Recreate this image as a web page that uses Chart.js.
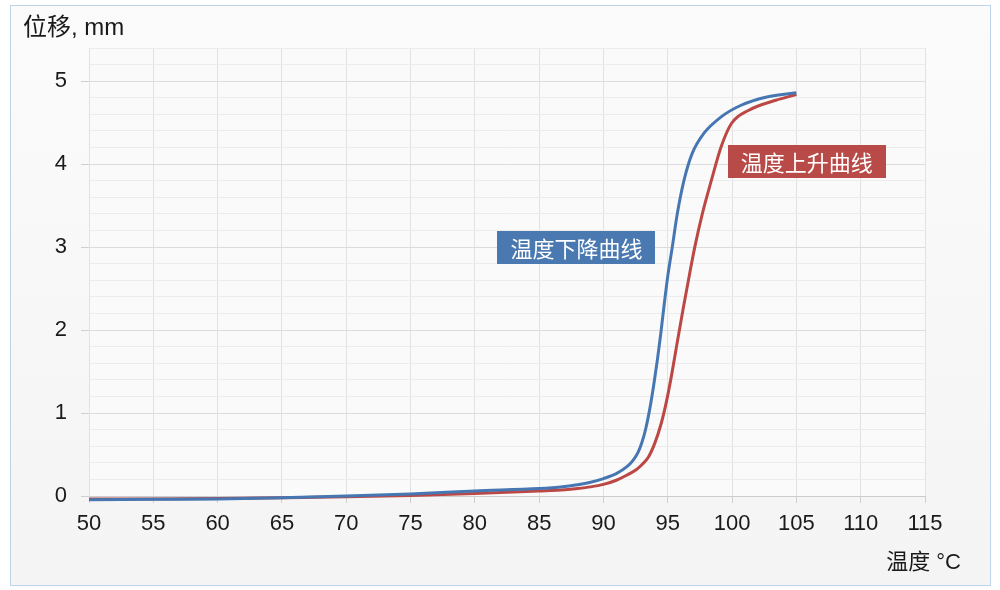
<!DOCTYPE html>
<html>
<head>
<meta charset="utf-8">
<script src="https://cdn.jsdelivr.net/npm/chart.js@4/dist/chart.umd.min.js"></script>
<style>
  html,body{margin:0;padding:0;background:#ffffff;}
  #wrap{width:1000px;height:590px;position:relative;}
</style>
</head>
<body>
<div id="wrap"><canvas id="c"></canvas></div>
<script>
// Temperature (°C) and displacement (mm)
const coolingT = [50, 55, 60, 65, 70, 75, 80, 85, 86, 87, 88, 89, 90, 91, 91.8, 92.3, 92.7, 93, 93.3, 93.6, 93.9, 94.2, 94.45, 94.7, 95, 95.35, 95.75, 96.27, 96.9, 97.8, 99.15, 100.7, 102.7, 105];
const coolingV = [-0.045, -0.04, -0.035, -0.02, 0, 0.025, 0.06, 0.09, 0.1, 0.115, 0.135, 0.165, 0.21, 0.27, 0.35, 0.43, 0.53, 0.65, 0.82, 1.05, 1.33, 1.65, 1.95, 2.28, 2.65, 3.0, 3.41, 3.81, 4.13, 4.37, 4.57, 4.71, 4.81, 4.86];
const heatingT = [50, 55, 60, 65, 70, 75, 80, 85, 87, 88, 89, 90, 91, 91.8, 92.57, 93, 93.5, 94, 94.5, 94.9, 95.3, 95.7, 96.2, 96.7, 97.1, 97.7, 98.4, 99.15, 99.95, 101.3, 103.4, 105];
const heatingV = [-0.035, -0.035, -0.03, -0.02, -0.01, 0.005, 0.03, 0.06, 0.075, 0.09, 0.11, 0.14, 0.19, 0.25, 0.32, 0.38, 0.47, 0.64, 0.88, 1.14, 1.46, 1.82, 2.26, 2.68, 3.0, 3.41, 3.81, 4.21, 4.49, 4.65, 4.77, 4.84];
const seriesNames = ['温度下降曲线', '温度上升曲线'];
const xTitle = '温度 °C';
const yTitle = '位移, mm';

const BLUE = '#4677b3';
const RED = '#bb4845';
const toPts = (xs, ys) => xs.map((x, i) => ({x: x, y: ys[i]}));
const isMajor = v => Math.abs(v - Math.round(v)) < 1e-6;

const framePlugin = {
  id: 'frame',
  beforeDraw(chart) {
    const ctx = chart.ctx;
    ctx.save();
    const g = ctx.createLinearGradient(0, 5, 0, 585);
    g.addColorStop(0, '#fbfbfb');
    g.addColorStop(1, '#f4f4f4');
    ctx.fillStyle = g;
    ctx.fillRect(10.5, 5.5, 980, 580);
    ctx.strokeStyle = '#bcd3e9';
    ctx.lineWidth = 1;
    ctx.strokeRect(10.5, 5.5, 980, 580);
    const a = chart.chartArea;
    ctx.fillStyle = '#fafafa';
    ctx.fillRect(a.left, a.top, a.right - a.left, a.bottom - a.top);
    ctx.restore();
  },
  afterDraw(chart) {
    const ctx = chart.ctx;
    ctx.save();
    ctx.fillStyle = '#1a1a1a';
    ctx.textBaseline = 'middle';
    ctx.textAlign = 'left';
    ctx.font = '24px "Liberation Sans", "Noto Sans CJK SC", sans-serif';
    ctx.fillText(yTitle, 23, 28);
    ctx.textAlign = 'right';
    ctx.font = '22px "Liberation Sans", "Noto Sans CJK SC", sans-serif';
    ctx.fillText(xTitle, 961, 563);
    ctx.restore();
  }
};

const labelPlugin = {
  id: 'seriesLabels',
  afterDatasetsDraw(chart, args, opts) {
    const ctx = chart.ctx;
    const xs = chart.scales.x, ys = chart.scales.y;
    ctx.save();
    opts.items.forEach(it => {
      const cx = xs.getPixelForValue(it.x);
      const cy = ys.getPixelForValue(it.y);
      const w = 158, h = 33;
      ctx.fillStyle = it.color;
      ctx.fillRect(Math.round(cx - w / 2), Math.round(cy - h / 2), w, h);
      ctx.fillStyle = '#ffffff';
      ctx.font = '22px "Noto Sans CJK SC", sans-serif';
      ctx.textAlign = 'center';
      ctx.textBaseline = 'middle';
      ctx.fillText(it.text, cx, cy + 1);
    });
    ctx.restore();
  }
};

new Chart(document.getElementById('c'), {
  type: 'line',
  data: {
    datasets: [
      {label: seriesNames[0], data: toPts(coolingT, coolingV), borderColor: BLUE, borderWidth: 3, pointRadius: 0, cubicInterpolationMode: 'monotone', fill: false, clip: false},
      {label: seriesNames[1], data: toPts(heatingT, heatingV), borderColor: RED, borderWidth: 3, pointRadius: 0, cubicInterpolationMode: 'monotone', fill: false, clip: false}
    ]
  },
  options: {
    responsive: true,
    maintainAspectRatio: false,
    devicePixelRatio: 1,
    animation: false,
    layout: {padding: {left: 0, top: 48, right: 75, bottom: 0}},
    plugins: {
      legend: {display: false},
      tooltip: {enabled: false},
      seriesLabels: {
        items: [
          {text: seriesNames[0], x: 87.9, y: 2.99, color: '#4a78b1'},
          {text: seriesNames[1], x: 105.8, y: 4.03, color: '#b84a47'}
        ]
      }
    },
    scales: {
      x: {
        type: 'linear',
        min: 50, max: 115,
        ticks: {stepSize: 5, autoSkip: false, maxRotation: 0, color: '#1a1a1a', padding: 8, font: {family: '"Liberation Sans", sans-serif', size: 22}},
        grid: {color: '#e2e2e2', tickLength: 7, tickColor: '#cfcfcf', drawTicks: true},
        border: {color: '#cccccc'},
        afterFit(s) { s.height = 94; }
      },
      y: {
        type: 'linear',
        min: 0, max: 5.4,
        ticks: {
          stepSize: 0.2, autoSkip: false, includeBounds: true, color: '#1a1a1a', padding: 14,
          font: {family: '"Liberation Sans", sans-serif', size: 22},
          callback: v => isMajor(v) ? String(Math.round(v)) : ''
        },
        grid: {
          color: ctx => (ctx.tick && isMajor(ctx.tick.value)) ? '#dcdcdc' : '#ececec',
          tickColor: ctx => (ctx.tick && isMajor(ctx.tick.value)) ? '#cfcfcf' : 'rgba(0,0,0,0)',
          tickLength: 8
        },
        border: {color: '#e2e2e2'},
        afterFit(s) { s.width = 89; }
      }
    }
  },
  plugins: [framePlugin, labelPlugin]
});
</script>
</body>
</html>
